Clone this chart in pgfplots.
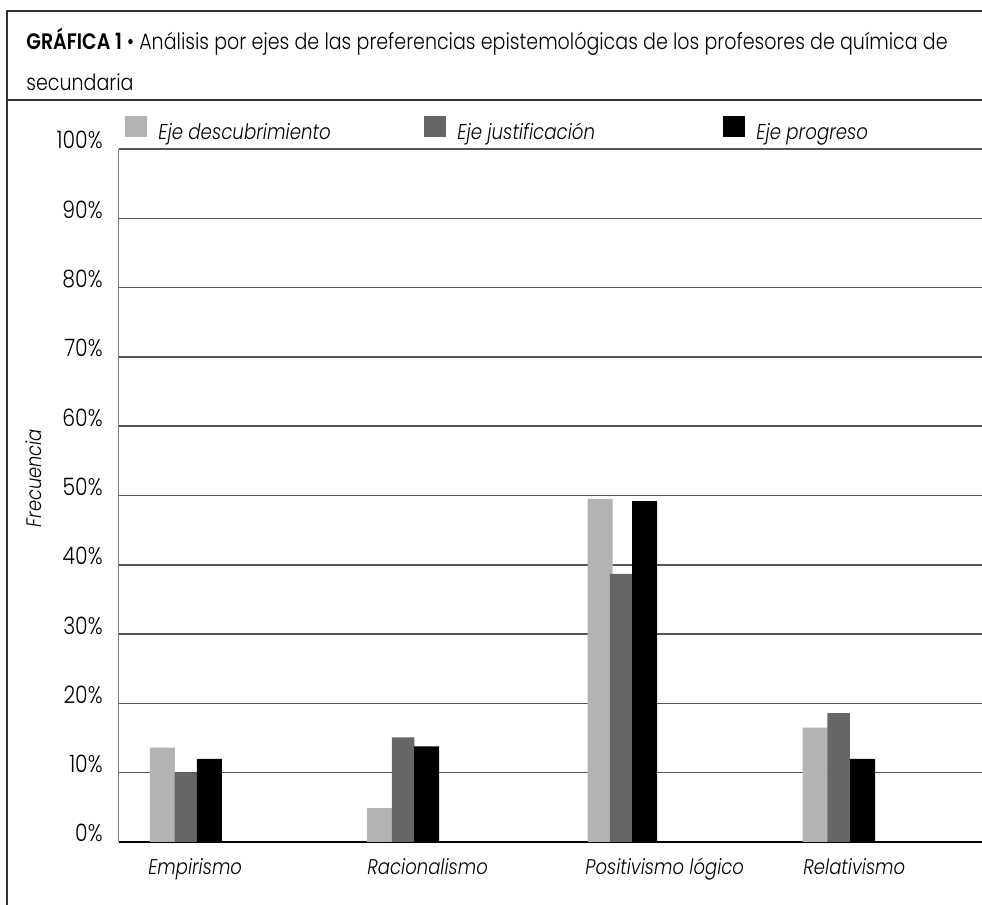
\documentclass[border=0pt]{standalone}
\usepackage{fontspec}
\setmainfont{Poppins Light}[ItalicFont={Poppins Light Italic}, BoldFont={Poppins SemiBold}, FakeStretch=0.85]
\usepackage{pgfplots}
\pgfplotsset{compat=1.18}
\definecolor{cdesc}{HTML}{B3B3B3}
\definecolor{cjust}{HTML}{666666}
\definecolor{cprog}{HTML}{000000}
\definecolor{cgrid}{HTML}{555555}
\definecolor{cframe}{HTML}{333333}
\pgfplotsset{sq/.style={legend image code/.code={\fill[##1] (0pt,-2pt) rectangle (11pt,8.5pt);}}}
\begin{document}
\begin{tikzpicture}
\useasboundingbox (0,0) rectangle (491pt,452.5pt);
% frame
\draw[cframe, line width=0.75pt] (3.5pt,0) -- (3.5pt,447pt) -- (491pt,447pt);
\draw[cframe, line width=0.75pt] (3.5pt,402.5pt) -- (491pt,402.5pt);
\node[anchor=base west, inner sep=0pt, font=\fontsize{11.2}{18.5}\selectfont]
  at (13pt,427.5pt) {\textbf{GRÁFICA 1} \textbullet\ Análisis por ejes de las preferencias epistemológicas de los profesores de química de};
\node[anchor=base west, inner sep=0pt, font=\fontsize{11.2}{18.5}\selectfont]
  at (13pt,407pt) {secundaria};
\begin{axis}[
  at={(59.5pt,31.5pt)}, anchor=south west,
  width=431.5pt, height=346.5pt, scale only axis,
  ybar,
  xmin=119, xmax=982, ymin=0, ymax=100,
  axis x line*=bottom, axis y line*=left,
  x axis line style={black, line width=0.75pt, -},
  y axis line style={gray, line width=0.5pt, -},
  ytick={0,10,...,100},
  yticklabel={\pgfmathprintnumber{\tick}\%},
  /pgf/number format/assume math mode=true,
  yticklabel style={anchor=base east, inner sep=0pt, xshift=-8pt, font=\fontsize{12}{12}\selectfont},
  ymajorgrids, grid style={cgrid, line width=0.75pt},
  major tick length=0pt,
  xtick={148,367,585,803},
  xticklabels={Empirismo, Racionalismo, Positivismo lógico, Relativismo},
  xticklabel style={anchor=base west, inner sep=0pt, yshift=-16.5pt, font=\fontsize{10.6}{12}\selectfont\itshape},
  ylabel={Frecuencia},
  ylabel style={at={(axis description cs:-0.0985,0.525)}, anchor=center, font=\fontsize{10.5}{12}\selectfont\itshape},
  legend columns=3,
  legend style={at={(axis description cs:0,1)}, anchor=south west, xshift=3pt, yshift=3pt,
    draw=none, fill=none, inner sep=0pt, column sep=0pt,
    font=\fontsize{10.7}{12}\selectfont\itshape,
    nodes={inner sep=0pt},
    /tikz/every odd column/.append style={column sep=5.5pt}},
]
\addplot[fill=cdesc, draw=none, bar width=25, bar shift=0pt, sq] coordinates {(162.5,13.6) (379.5,4.9) (600,49.5) (815,16.5)};
\addplot[fill=cjust, draw=none, bar width=22.5, bar shift=0pt, sq] coordinates {(186,10.0) (403,15.1) (621,38.7) (838.5,18.6)};
\addplot[fill=cprog, draw=none, bar width=25, bar shift=0pt, sq] coordinates {(209.5,12.0) (426.5,13.8) (644.5,49.2) (862.5,12.0)};
\legend{\makebox[133pt][l]{Eje descubrimiento}, \makebox[133pt][l]{Eje justificación}, \makebox[133pt][l]{Eje progreso}}
\end{axis}
\end{tikzpicture}
\end{document}
